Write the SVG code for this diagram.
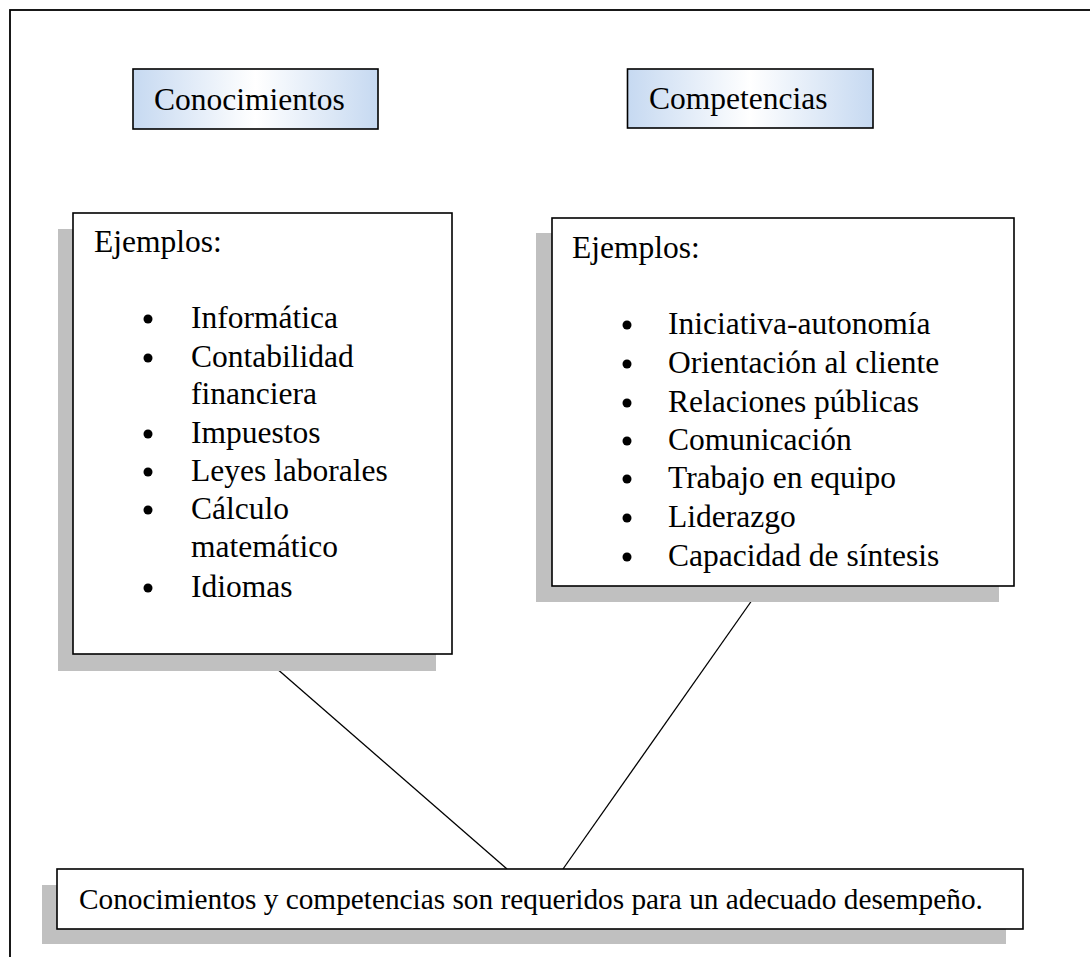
<svg xmlns="http://www.w3.org/2000/svg" width="1090" height="957" viewBox="0 0 1090 957">
<defs>
<linearGradient id="hg" x1="0" y1="0" x2="1" y2="0">
<stop offset="0" stop-color="#c6d9f1"/>
<stop offset="0.5" stop-color="#ffffff"/>
<stop offset="1" stop-color="#c6d9f1"/>
</linearGradient>
</defs>
<style>
text{font-family:"Liberation Serif","Times New Roman",serif;fill:#000}
.t32{font-size:31.5px}
.tb{font-size:29.3px}
.box{fill:#fff;stroke:#000;stroke-width:1.6}
.hdr{fill:url(#hg);stroke:#000;stroke-width:1.6}
.sh{fill:#c0c0c0}
.con{stroke:#000;stroke-width:1.3;fill:none}
.bul{fill:#000}
</style>
<rect x="0" y="0" width="1090" height="957" fill="#fff"/>
<rect id="frame" x="10" y="10" width="1100" height="970" fill="none" stroke="#000" stroke-width="1.8"/>

<g id="connectors">
<line class="con" x1="260" y1="654" x2="507" y2="869"/>
<line class="con" x1="762" y1="586" x2="563" y2="869"/>
</g>

<g id="hdr-conocimientos">
<rect class="hdr" x="133" y="69" width="245" height="60"/>
<text class="t32" x="154" y="110">Conocimientos</text>
</g>

<g id="hdr-competencias">
<rect class="hdr" x="627.5" y="69" width="245.5" height="59"/>
<text class="t32" x="649" y="109">Competencias</text>
</g>

<g id="box-conocimientos">
<rect class="sh" x="58" y="229" width="378" height="442"/>
<rect class="box" x="73" y="213" width="379" height="441"/>
<text class="t32" x="94" y="252">Ejemplos:</text>
<circle class="bul" cx="148" cy="319" r="4.5"/>
<text class="t32" x="191" y="328">Informática</text>
<circle class="bul" cx="148" cy="358" r="4.5"/>
<text class="t32" x="191" y="367">Contabilidad</text>
<text class="t32" x="191" y="404">financiera</text>
<circle class="bul" cx="148" cy="434" r="4.5"/>
<text class="t32" x="191" y="443">Impuestos</text>
<circle class="bul" cx="148" cy="472" r="4.5"/>
<text class="t32" x="191" y="481">Leyes laborales</text>
<circle class="bul" cx="148" cy="510" r="4.5"/>
<text class="t32" x="191" y="519">Cálculo</text>
<text class="t32" x="191" y="557">matemático</text>
<circle class="bul" cx="148" cy="588" r="4.5"/>
<text class="t32" x="191" y="597">Idiomas</text>
</g>

<g id="box-competencias">
<rect class="sh" x="536" y="233" width="463" height="369"/>
<rect class="box" x="552" y="218" width="462" height="368"/>
<text class="t32" x="572" y="258">Ejemplos:</text>
<circle class="bul" cx="627" cy="325" r="4.5"/>
<text class="t32" x="668" y="334">Iniciativa-autonomía</text>
<circle class="bul" cx="627" cy="364" r="4.5"/>
<text class="t32" x="668" y="373">Orientación al cliente</text>
<circle class="bul" cx="627" cy="403" r="4.5"/>
<text class="t32" x="668" y="412">Relaciones públicas</text>
<circle class="bul" cx="627" cy="441" r="4.5"/>
<text class="t32" x="668" y="450">Comunicación</text>
<circle class="bul" cx="627" cy="479" r="4.5"/>
<text class="t32" x="668" y="488">Trabajo en equipo</text>
<circle class="bul" cx="627" cy="518" r="4.5"/>
<text class="t32" x="668" y="527">Liderazgo</text>
<circle class="bul" cx="627" cy="557" r="4.5"/>
<text class="t32" x="668" y="566">Capacidad de síntesis</text>
</g>

<g id="box-conclusion">
<rect class="sh" x="42" y="885" width="964" height="59"/>
<rect class="box" x="57" y="869" width="966" height="60" stroke-width="2"/>
<text class="tb" x="79" y="909">Conocimientos y competencias son requeridos para un adecuado desempeño.</text>
</g>
</svg>
